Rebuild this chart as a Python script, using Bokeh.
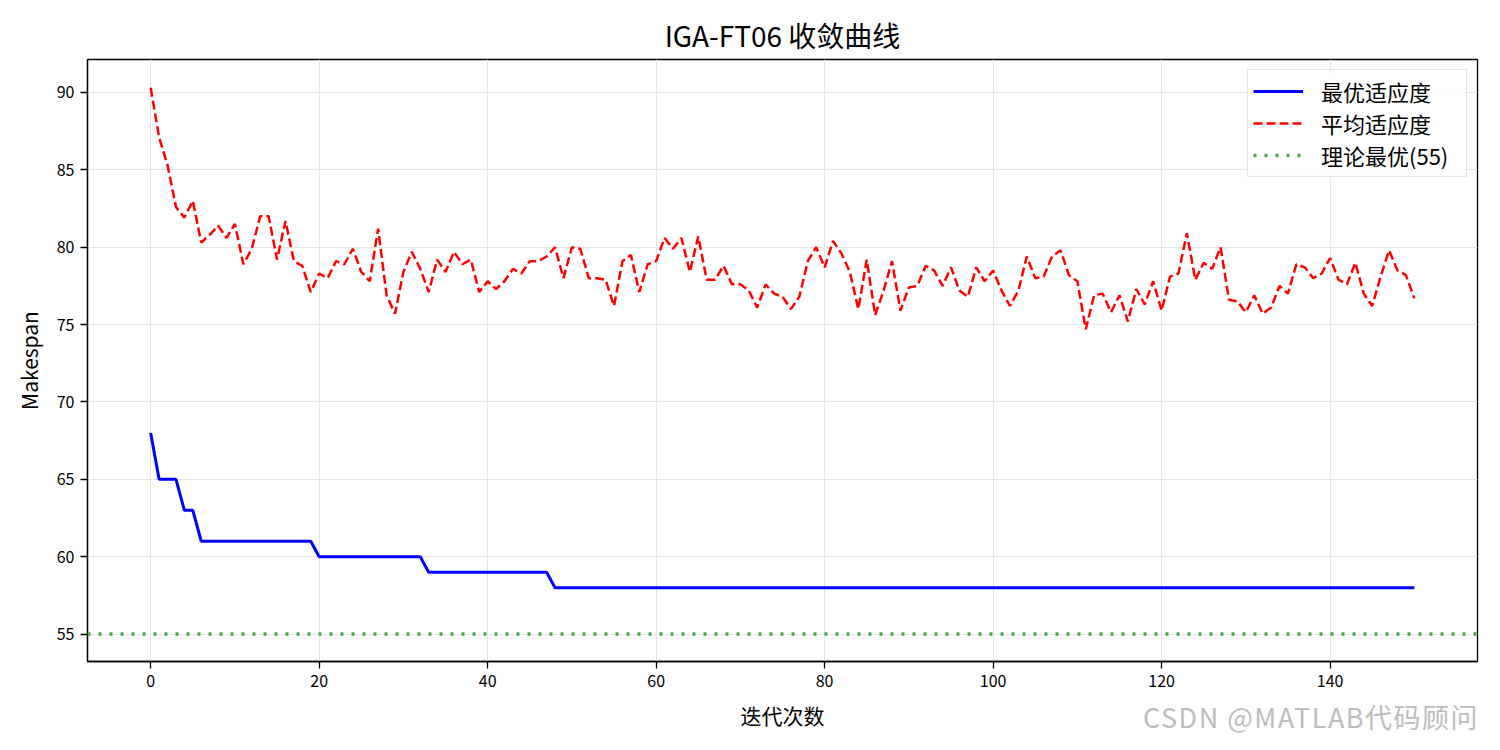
from bokeh.plotting import figure
from bokeh.models import Span, Legend, LegendItem, Range1d, ColumnDataSource, FixedTicker, Div
from bokeh.layouts import column
from bokeh.embed import file_html
from bokeh.resources import INLINE

FONT = "Noto Sans CJK SC"

title_text = "IGA-FT06 收敛曲线"
x_label = "迭代次数"
y_label = "Makespan"
series_names = ["最优适应度", "平均适应度", "理论最优(55)"]
watermark = "CSDN @MATLAB代码顾问"
optimum = 55

x_ticks = [0, 20, 40, 60, 80, 100, 120, 140]
y_ticks = [55, 60, 65, 70, 75, 80, 85, 90]

best = ([68, 65, 65, 65, 63, 63]
        + [61, 61, 61, 61, 61, 61, 61, 61, 61, 61, 61, 61, 61, 61]
        + [60, 60, 60, 60, 60, 60, 60, 60, 60, 60, 60, 60, 60]
        + [59, 59, 59, 59, 59, 59, 59, 59, 59, 59, 59, 59, 59, 59, 59]
        + [58] * 103)

avg = [90.3, 87.1, 85.3, 82.6, 81.9, 83.0, 80.3, 80.8, 81.4, 80.6,
       81.5, 78.9, 79.9, 82.0, 82.0, 79.2, 81.7, 79.1, 78.8, 77.1,
       78.3, 78.0, 79.1, 78.9, 79.9, 78.4, 77.8, 81.2, 76.9, 75.7,
       78.4, 79.7, 78.6, 77.1, 79.2, 78.4, 79.7, 78.9, 79.2, 77.1,
       77.8, 77.3, 77.8, 78.6, 78.3, 79.1, 79.1, 79.4, 80.0, 78.0,
       80.0, 79.9, 78.0, 78.0, 77.9, 76.2, 79.1, 79.5, 77.1, 78.9,
       79.1, 80.6, 79.9, 80.6, 78.4, 80.7, 77.9, 77.9, 78.8, 77.6,
       77.6, 77.2, 76.1, 77.6, 77.0, 76.8, 76.0, 76.8, 79.1, 80.0,
       78.7, 80.4, 79.6, 78.4, 76.0, 79.2, 75.6, 77.2, 79.1, 75.9,
       77.4, 77.5, 78.8, 78.5, 77.5, 78.7, 77.2, 76.8, 78.7, 77.8,
       78.5, 77.2, 76.2, 77.2, 79.4, 78.0, 78.1, 79.4, 79.8, 78.2,
       77.8, 74.7, 76.9, 77.0, 75.8, 76.9, 75.2, 77.3, 76.3, 77.8,
       75.9, 78.1, 78.3, 80.9, 77.9, 79.0, 78.6, 80.0, 76.6, 76.5,
       75.8, 76.9, 75.7, 76.1, 77.5, 77.0, 78.9, 78.7, 78.0, 78.3,
       79.3, 77.9, 77.6, 79.0, 77.0, 76.2, 78.1, 79.8, 78.5, 78.2,
       76.7]

gens = list(range(len(avg)))

src = ColumnDataSource(dict(gen=gens, best=best, avg=avg))
opt_src = ColumnDataSource(dict(gen=gens[:1], opt=[optimum]))

p = figure(width=1492, height=742, output_backend="svg", toolbar_location=None,
           x_range=Range1d(-7.5, 157.5), y_range=Range1d(53.23, 92.13),
           min_border_left=87, min_border_right=15, min_border_top=59, min_border_bottom=81)

p.title.text = title_text
p.title.align = "center"
p.title.text_font = FONT
p.title.text_font_size = "28px"
p.title.text_font_style = "normal"
p.title.text_color = "black"
p.title.standoff = 10

GREEN = "#4da64d"
r_best = p.line("gen", "best", source=src, line_color="#0000ff", line_width=3)
r_avg = p.line("gen", "avg", source=src, line_color="#ff0000", line_width=2.5, line_dash="9 4")
r_opt = p.line("gen", "opt", source=opt_src, line_color=GREEN, line_width=3.5, line_dash="3 8")
p.add_layout(Span(location=optimum, dimension="width", line_color=GREEN,
                  line_width=3.5, line_dash="3 8"))

p.xaxis.ticker = FixedTicker(ticks=x_ticks)
p.yaxis.ticker = FixedTicker(ticks=y_ticks)
for ax in (p.xaxis, p.yaxis):
    ax.minor_tick_line_color = None
    ax.major_tick_in = 0
    ax.major_tick_out = 7
    ax.major_tick_line_color = "black"
    ax.major_tick_line_width = 1.3
    ax.axis_line_color = "black"
    ax.axis_line_width = 1.3
    ax.major_label_text_font = FONT
    ax.major_label_text_font_size = "16px"
    ax.major_label_text_color = "black"
    ax.axis_label_text_font = FONT
    ax.axis_label_text_font_size = "21px"
    ax.axis_label_text_font_style = "normal"
    ax.axis_label_text_color = "black"
    ax.major_label_standoff = 6
    ax.axis_label_standoff = 10
p.xaxis.axis_label = x_label
p.yaxis.axis_label = y_label

p.outline_line_color = "black"
p.outline_line_width = 1.3
p.outline_line_alpha = 1

p.grid.grid_line_color = "#e6e6e6"
p.grid.grid_line_width = 1

legend = Legend(items=[LegendItem(label=series_names[0], renderers=[r_best]),
                       LegendItem(label=series_names[1], renderers=[r_avg]),
                       LegendItem(label=series_names[2], renderers=[r_opt])],
                location="top_right")
legend.border_line_color = "#cccccc"
legend.border_line_width = 1.3
legend.background_fill_alpha = 0.8
legend.label_text_font = FONT
legend.label_text_font_size = "22px"
legend.label_text_color = "black"
legend.glyph_width = 50
legend.glyph_height = 28
legend.label_height = 28
legend.label_width = 140
legend.spacing = 0
legend.padding = 5
legend.label_standoff = 18
legend.margin = 10
p.add_layout(legend)

wm = Div(text=watermark, width=350, height=34, margin=(-42, 0, 0, 1143),
         styles={"color": "#bdbdbd", "font-size": "27px", "font-family": FONT,
                 "letter-spacing": "1.5px",
                 "white-space": "nowrap", "position": "relative", "z-index": "10",
                 "line-height": "34px"})

layout = column(p, wm, spacing=0)

open("out.html", "w").write(file_html(layout, INLINE))
